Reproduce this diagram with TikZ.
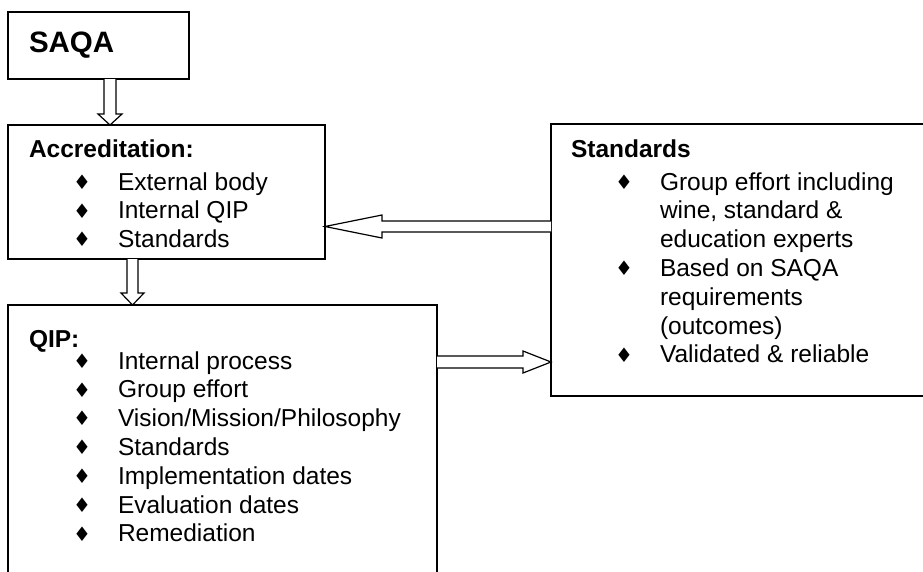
\documentclass[tikz,border=0pt]{standalone}
\usepackage{fontspec}
\setmainfont{Liberation Sans}
\newfontfamily\dejavu{DejaVu Sans}
\usetikzlibrary{calc}
\newcommand\bul{\makebox[89pt][l]{\hspace{48pt}\makebox[10pt][c]{\raisebox{0.8pt}{\dejavu\fontsize{20}{20}\selectfont ♦}}}}
\newcommand\cont{\hspace*{89pt}}
\newcommand\arrowdown[5]{%
  \draw[barrow] let \p1=(#1), \p2=(#2) in
    (\x1-#3,\y1) -- (\x1-#3,\y2+#5) -- (\x1-#4,\y2+#5) -- (\x1,\y2) --
    (\x1+#4,\y2+#5) -- (\x1+#3,\y2+#5) -- (\x1+#3,\y1);}
\newcommand\arrowleft[5]{%
  \draw[barrow] let \p1=(#1), \p2=(#2) in
    (\x1,\y1+#3) -- (\x2+#5,\y1+#3) -- (\x2+#5,\y1+#4) -- (\x2,\y1) --
    (\x2+#5,\y1-#4) -- (\x2+#5,\y1-#3) -- (\x1,\y1-#3);}
\newcommand\arrowright[5]{%
  \draw[barrow] let \p1=(#1), \p2=(#2) in
    (\x1,\y1+#3) -- (\x2-#5,\y1+#3) -- (\x2-#5,\y1+#4) -- (\x2,\y1) --
    (\x2-#5,\y1-#4) -- (\x2-#5,\y1-#3) -- (\x1,\y1-#3);}
\begin{document}
\begin{tikzpicture}[x=1pt,y=-1pt,
  box/.style={draw, line width=1.8pt, rectangle, inner sep=0pt, outer sep=0pt, anchor=north west},
  barrow/.style={draw, line width=1.2pt, fill=white, line join=miter},
  txt/.style={anchor=base west, inner sep=0pt, outer sep=0pt}]
\clip (0,0) rectangle (923,571);
\fill[white] (0,0) rectangle (923,571);
% boxes
\node[box, minimum width=181pt, minimum height=67pt] (saqa) at (8,12) {};
\node[box, minimum width=317pt, minimum height=134pt] (acc) at (8,125) {};
\node[box, minimum width=429pt, minimum height=300pt] (qip) at (8,305) {};
\node[box, minimum width=409pt, minimum height=272pt] (std) at (551,124) {};
% texts
\node[txt, font=\bfseries\fontsize{29.5}{34}\selectfont] (saqat) at ($(saqa.north west)+(21,40)$) {SAQA};
\node[txt] (acct) at ($(acc.north west)+(21,32)$) {\begin{minipage}[t]{295pt}\fontsize{24.5}{28.8}\selectfont
\textbf{Accreditation:}\par\vspace{4.2pt}
\bul External body\par
\bul Internal QIP\par
\bul Standards\end{minipage}};
\node[txt] (qipt) at ($(qip.north west)+(21,42)$) {\begin{minipage}[t]{405pt}\fontsize{24.5}{28.8}\selectfont
\textbf{QIP:}\par\vspace{-6.8pt}
\bul Internal process\par
\bul Group effort\par
\bul Vision/Mission/Philosophy\par
\bul Standards\par
\bul Implementation dates\par
\bul Evaluation dates\par
\bul Remediation\end{minipage}};
\node[txt] (stdt) at ($(std.north west)+(20,33)$) {\begin{minipage}[t]{360pt}\fontsize{24.5}{28.8}\selectfont
\textbf{Standards}\par\vspace{4.2pt}
\bul Group effort including\par
\cont wine, standard \&\par
\cont education experts\par
\bul Based on SAQA\par
\cont requirements\par
\cont (outcomes)\par
\bul Validated \& reliable\end{minipage}};
% block arrows
\arrowdown{$(saqa.south west)+(102,0)$}{$(acc.north west)+(102,0)$}{6pt}{12pt}{11pt}
\arrowdown{$(acc.south west)+(124.5,0)$}{$(qip.north west)+(124.5,0)$}{5.5pt}{11.5pt}{12pt}
\arrowleft{$(std.north west)+(0,102.5)$}{$(acc.north east)+(0,101.5)$}{5.5pt}{11.5pt}{57pt}
\arrowright{$(qip.north east)+(0,57)$}{$(std.north west)+(0,238)$}{6pt}{11pt}{28pt}
\end{tikzpicture}
\end{document}
